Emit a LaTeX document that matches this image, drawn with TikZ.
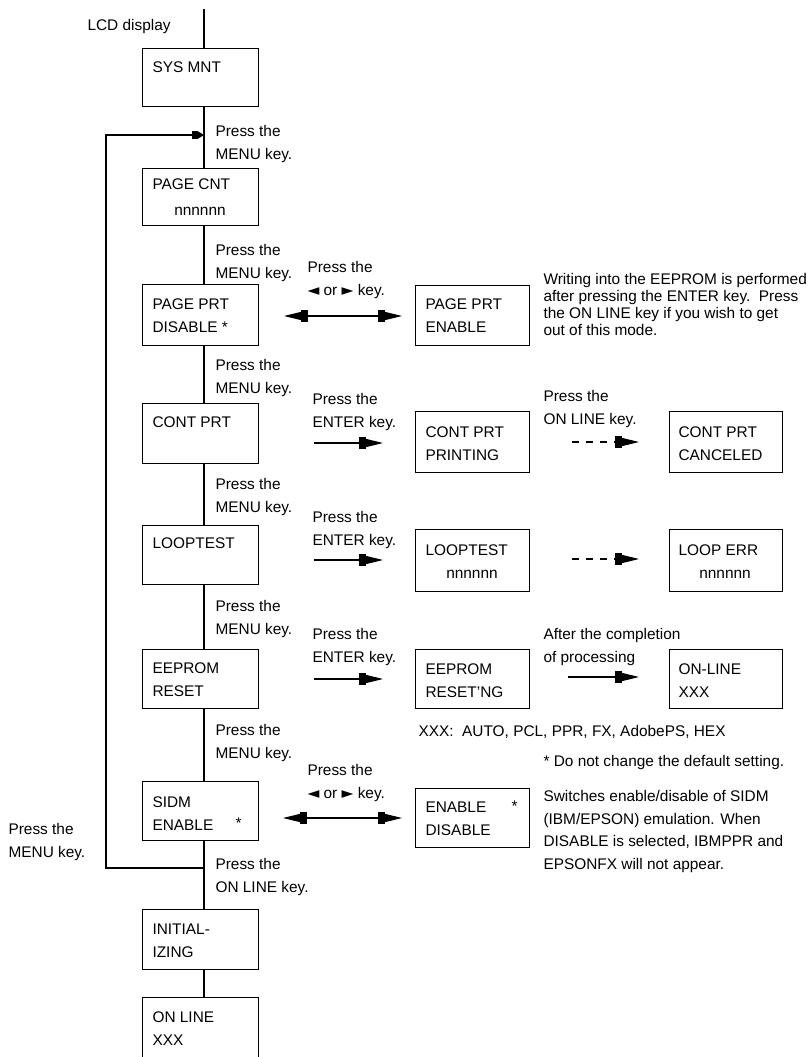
\documentclass[tikz,border=0pt]{standalone}
\usepackage{fontspec}
\setmainfont{Liberation Sans}
\newfontfamily\symfont{DejaVu Sans}
\usetikzlibrary{arrows.meta}
\begin{document}
\begin{tikzpicture}[x=1pt,y=-1pt,line width=1.1pt,
  box/.style={draw,anchor=north west,minimum width=116pt,inner sep=0pt},
  rbox/.style={box,minimum width=114pt},
  txt/.style={anchor=base west,inner sep=0pt,align=left,font=\fontsize{15.4}{22.5}\selectfont},
  para/.style={txt,font=\fontsize{15.4}{17}\selectfont},
  ctr/.style={txt,anchor=base},
  arr/.style={-{Rectangle[length=7pt,width=12pt]Triangle[length=17pt,width=8pt]}},
  darr/.style={{Triangle[length=17pt,width=8pt]Rectangle[length=7pt,width=12pt]}-{Rectangle[length=7pt,width=12pt]Triangle[length=17pt,width=8pt]}},
  looparr/.style={-{Rectangle[length=6pt,width=8pt]Triangle[length=6pt,width=7pt]}},
  dsh/.style={dash pattern=on 7pt off 7pt}
]
\useasboundingbox (0,0) rectangle (811,1057);
\fill[white] (0,0) rectangle (811,1057);

% main column boxes
\coordinate (top) at (204,9);
\node[box,minimum height=58pt] (sys) at (142,48) {};
\node[box,minimum height=57pt] (pcnt) at (142,168) {};
\node[box,minimum height=61pt] (pprt) at (142,284) {};
\node[box,minimum height=60pt] (cont) at (142,403) {};
\node[box,minimum height=59pt] (loop) at (142,525) {};
\node[box,minimum height=59pt] (eep) at (142,649) {};
\node[box,minimum height=59pt] (sidm) at (142,781) {};
\node[box,minimum height=60pt] (init) at (142,909) {};
\node[box,minimum height=80pt] (onln) at (142,997) {};

% right boxes
\node[rbox,minimum height=60pt] (ppen) at (415,285) {};
\node[rbox,minimum height=61pt] (cpr) at (415,411) {};
\node[rbox,minimum height=62pt] (lpt) at (415,529) {};
\node[rbox,minimum height=59pt] (eepr) at (415,649) {};
\node[rbox,minimum height=59pt] (endis) at (415,788) {};
\node[rbox,minimum width=113pt,minimum height=61pt] (ccan) at (669,411) {};
\node[rbox,minimum width=113pt,minimum height=62pt] (lerr) at (669,529) {};
\node[rbox,minimum width=113pt,minimum height=59pt] (onl) at (669,649) {};

% main vertical connectors
\draw (top) -- (sys.north -| top);
\draw (sys.south -| top) -- (pcnt.north -| top);
\draw (pcnt.south -| top) -- (pprt.north -| top);
\draw (pprt.south -| top) -- (cont.north -| top);
\draw (cont.south -| top) -- (loop.north -| top);
\draw (loop.south -| top) -- (eep.north -| top);
\draw (eep.south -| top) -- (sidm.north -| top);
\draw (sidm.south -| top) -- (init.north -| top);
\draw (init.south -| top) -- (onln.north -| top);

% return loop
\coordinate (j1) at (204,135);
\coordinate (j2) at (204,868);
\coordinate (lb) at (106,868);
\coordinate (lt) at (106,135);
\draw[looparr] (j2) -- (lb) -- (lt) -- (j1);

% horizontal arrows
\coordinate (a1s) at (284,316); \coordinate (a1e) at (402,316);
\draw[darr] (a1s) -- (a1e);
\coordinate (a2s) at (314,443); \coordinate (a2e) at (383,443);
\draw[arr] (a2s) -- (a2e);
\coordinate (a3s) at (572,442); \coordinate (a3e) at (639,442);
\draw[arr,dsh] (a3s) -- (a3e);
\coordinate (a4s) at (314,560); \coordinate (a4e) at (383,560);
\draw[arr] (a4s) -- (a4e);
\coordinate (a5s) at (572,559); \coordinate (a5e) at (639,559);
\draw[arr,dsh] (a5s) -- (a5e);
\coordinate (a6s) at (314,679); \coordinate (a6e) at (383,679);
\draw[arr] (a6s) -- (a6e);
\coordinate (a7s) at (568,677); \coordinate (a7e) at (639,677);
\draw[arr] (a7s) -- (a7e);
\coordinate (a8s) at (283,818); \coordinate (a8e) at (402,818);
\draw[darr] (a8s) -- (a8e);

% box texts (multi-line nodes are anchored at their last line)
\node[txt] (tsys) at (152,73) {SYS MNT};
\node[txt] (tpcnt) at (152,189) {PAGE CNT};
\node[ctr] (tpcntn) at (200,215) {nnnnnn};
\node[txt] (tpprt) at (152,332) {PAGE PRT\\DISABLE *};
\node[txt] (tppen) at (425,332) {PAGE PRT\\ENABLE};
\node[txt] (tcont) at (152,427) {CONT PRT};
\node[txt] (tcpr) at (425,460) {CONT PRT\\PRINTING};
\node[txt] (tccan) at (678,460) {CONT PRT\\CANCELED};
\node[txt] (tloop) at (152,548) {LOOPTEST};
\node[txt] (tlpt) at (425,555) {LOOPTEST};
\node[ctr] (tlptn) at (472,578) {nnnnnn};
\node[txt] (tlerr) at (678,555) {LOOP ERR};
\node[ctr] (tlerrn) at (725,578) {nnnnnn};
\node[txt] (teep) at (152,696) {EEPROM\\RESET};
\node[txt] (teepr) at (425,697) {EEPROM\\RESET'NG};
\node[txt] (tonl) at (678,697) {ON-LINE\\XXX};
\node[txt] (tsidm) at (152,830) {SIDM\\ENABLE};
\node[txt] (tsidms) at (235,828) {*};
\node[txt] (tendis) at (425,835) {ENABLE\\DISABLE};
\node[txt] (tendiss) at (511,811) {*};
\node[txt] (tinit) at (152,957) {INITIAL-\\IZING};
\node[txt] (tonln) at (152,1045) {ON LINE\\XXX};

% labels
\node[txt] (lcd) at (87,31) {LCD display};
\node[txt] (m1) at (215,159) {Press the\\MENU key.};
\node[txt] (m2) at (215,278) {Press the\\MENU key.};
\node[txt] (m3) at (215,393) {Press the\\MENU key.};
\node[txt] (m4) at (215,512) {Press the\\MENU key.};
\node[txt] (m5) at (215,634) {Press the\\MENU key.};
\node[txt] (m6) at (215,758) {Press the\\MENU key.};
\node[txt] (m7) at (215,892) {Press the\\ON LINE key.};
\node[txt] (mleft) at (8,857) {Press the\\MENU key.};
\node[txt] (e1) at (312,427) {Press the\\ENTER key.};
\node[txt] (e2) at (312,545) {Press the\\ENTER key.};
\node[txt] (e3) at (312,662) {Press the\\ENTER key.};
\node[txt] (k1) at (307,295) {Press the\\{\symfont ◄} or {\symfont ►} key.};
\node[txt] (k2) at (307,798) {Press the\\{\symfont ◄} or {\symfont ►} key.};
\node[txt] (ol) at (543,424) {Press the\\ON LINE key.};
\node[txt] (ac) at (543,662) {After the completion\\of processing};
\node[txt] (xxx) at (418,736) {XXX:\ \ AUTO, PCL, PPR, FX, AdobePS, HEX};
\node[txt] (dflt) at (543,766) {* Do not change the default setting.};
\node[para] (wr) at (543,335) {Writing into the EEPROM is performed\\after pressing the ENTER key.\ \ Press\\the ON LINE key if you wish to get\\out of this mode.};
\node[txt] (sw) at (543,869) {Switches enable/disable of SIDM\\(IBM/EPSON) emulation. When\\DISABLE is selected, IBMPPR and\\EPSONFX will not appear.};
\end{tikzpicture}
\end{document}
